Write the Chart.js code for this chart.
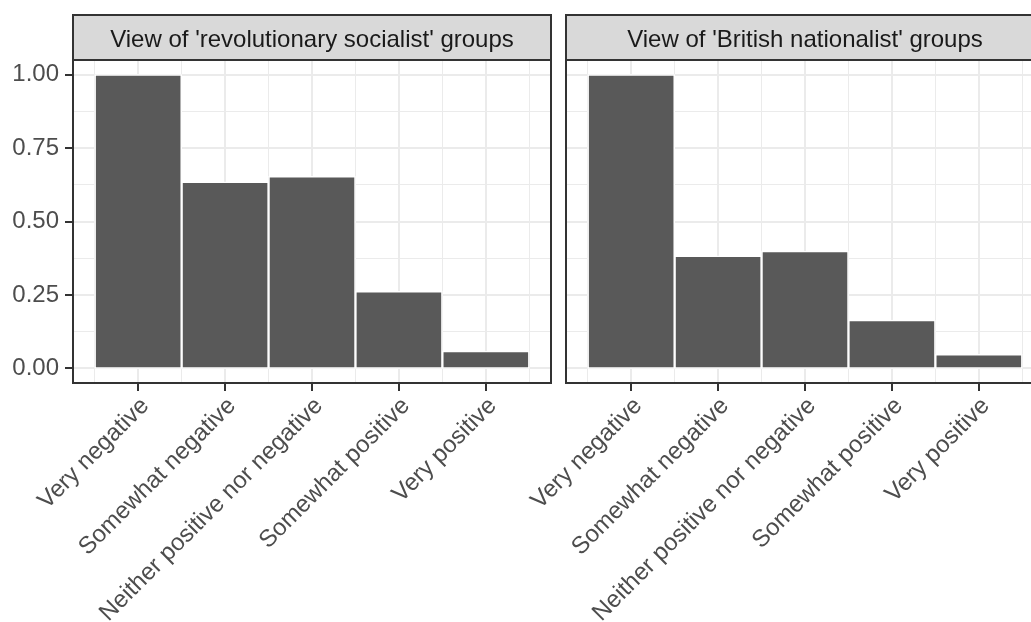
<!DOCTYPE html>
<html>
<head>
<meta charset="utf-8">
<script src="https://cdn.jsdelivr.net/npm/chart.js@4.4.1/dist/chart.umd.min.js"></script>
<style>
  html, body { margin: 0; padding: 0; background: #fff; }
  body { width: 1031px; height: 622px; overflow: hidden; position: relative; }
  canvas { position: absolute; top: 0; }
  #left { left: 0; }
  #right { left: 500px; }
</style>
</head>
<body>
<canvas id="left" width="560" height="622"></canvas>
<canvas id="right" width="560" height="622"></canvas>
<script>
const categories = [
  "Very negative",
  "Somewhat negative",
  "Neither positive nor negative",
  "Somewhat positive",
  "Very positive",
];
const panelTitles = [
  "View of 'revolutionary socialist' groups",
  "View of 'British nationalist' groups",
];
const revolutionarySocialist = [1.0, 0.635, 0.654, 0.262, 0.059];
const britishNationalist = [1.0, 0.383, 0.399, 0.164, 0.048];
const yBreaks = [0, 0.25, 0.5, 0.75, 1];
const yMinorBreaks = [0.125, 0.375, 0.625, 0.875];
const xMinorBreaks = [0.5, 1.5, 2.5, 3.5, 4.5, 5.5];

Chart.defaults.font.family = "'Liberation Sans', Arial, Helvetica, sans-serif";
Chart.defaults.font.size = 24;
Chart.defaults.color = "#4d4d4d";

const STRIP_H = 45;

// facet strip + panel border, like ggplot theme_bw
const facetStrip = {
  id: "facetStrip",
  afterDraw(chart, args, opts) {
    const { ctx, chartArea: a } = chart;
    ctx.save();
    ctx.fillStyle = "#d9d9d9";
    ctx.fillRect(a.left, a.top - STRIP_H, a.right - a.left, STRIP_H);
    ctx.strokeStyle = "#333333";
    ctx.lineWidth = 2;
    ctx.strokeRect(a.left, a.top - STRIP_H, a.right - a.left, STRIP_H);
    ctx.strokeRect(a.left, a.top, a.right - a.left, a.bottom - a.top);
    ctx.fillStyle = "#1a1a1a";
    ctx.font = "24px 'Liberation Sans', Arial, Helvetica, sans-serif";
    ctx.textAlign = "center";
    ctx.textBaseline = "alphabetic";
    ctx.fillText(opts.text, (a.left + a.right) / 2, a.top - STRIP_H + 31.7);
    ctx.restore();
  },
};

function setTicks(values) {
  return (scale) => {
    scale.ticks = values.map((v) => ({ value: v }));
  };
}

function makePanel(id, title, values, showY, padLeft, padRight) {
  const points = values.map((v, i) => ({ x: i + 1, y: v }));
  return new Chart(document.getElementById(id), {
    type: "bar",
    data: {
      datasets: [
        {
          data: points,
          backgroundColor: "#595959",
          borderColor: "#ffffff",
          borderWidth: 1.5,
          borderSkipped: false,
          barPercentage: 1,
          categoryPercentage: 1,
        },
      ],
    },
    options: {
      responsive: false,
      devicePixelRatio: 1,
      animation: false,
      layout: { padding: { top: 60, left: padLeft, right: padRight, bottom: 0 } },
      plugins: {
        legend: { display: false },
        tooltip: { enabled: false },
        facetStrip: { text: title },
      },
      scales: {
        xMinor: {
          type: "linear",
          position: "bottom",
          min: 0.25,
          max: 5.75,
          offset: false,
          afterBuildTicks: setTicks(xMinorBreaks),
          ticks: { display: false },
          grid: { color: "#ebebeb", lineWidth: 1, drawTicks: false, offset: false },
          border: { display: false },
          afterFit: (s) => { s.height = 0; s.paddingLeft = 0; s.paddingRight = 0; },
        },
        yMinor: {
          type: "linear",
          position: "left",
          min: -0.05,
          max: 1.05,
          afterBuildTicks: setTicks(yMinorBreaks),
          ticks: { display: false },
          grid: { color: "#ebebeb", lineWidth: 1, drawTicks: false },
          border: { display: false },
          afterFit: (s) => { s.width = 0; s.paddingTop = 0; s.paddingBottom = 0; },
        },
        x: {
          type: "linear",
          position: "bottom",
          min: 0.25,
          max: 5.75,
          offset: false,
          afterBuildTicks: setTicks([1, 2, 3, 4, 5]),
          ticks: {
            autoSkip: false,
            minRotation: 45,
            maxRotation: 45,
            padding: 1,
            labelOffset: 7,
            color: "#4d4d4d",
            callback: (v) => categories[Math.round(v) - 1],
          },
          grid: {
            color: "#ebebeb",
            lineWidth: 2,
            tickLength: 8,
            tickColor: "#333333",
            tickWidth: 2,
            offset: false,
          },
          border: { display: false },
          afterFit: (s) => { s.height = 239; s.paddingLeft = 0; s.paddingRight = 0; },
        },
        y: {
          type: "linear",
          position: "left",
          min: -0.05,
          max: 1.05,
          afterBuildTicks: setTicks(yBreaks),
          ticks: {
            display: showY,
            padding: 6,
            color: "#4d4d4d",
            callback: (v) => v.toFixed(2),
          },
          grid: {
            color: "#ebebeb",
            lineWidth: 2,
            drawTicks: showY,
            tickLength: 8,
            tickColor: "#333333",
            tickWidth: 2,
          },
          border: { display: false },
          afterFit: (s) => { s.width = showY ? 73 : 0; s.paddingTop = 0; s.paddingBottom = 0; },
        },
      },
    },
    plugins: [facetStrip],
  });
}

makePanel("left", panelTitles[0], revolutionarySocialist, true, 0, 9);
makePanel("right", panelTitles[1], britishNationalist, false, 66, 16);
</script>
</body>
</html>
